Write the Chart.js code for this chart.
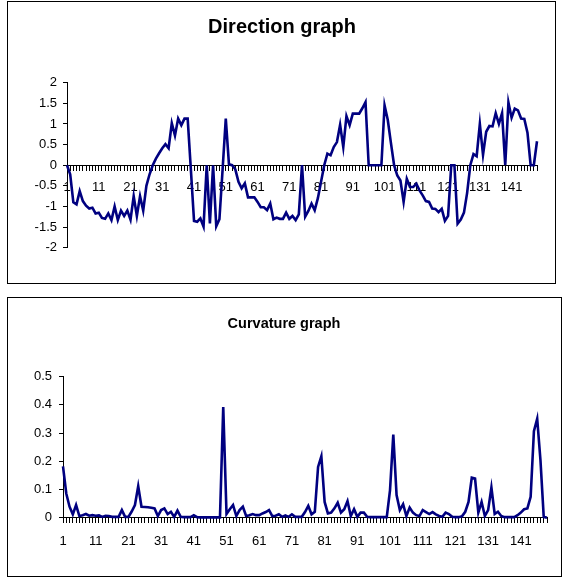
<!DOCTYPE html>
<html><head><meta charset="utf-8">
<script src="https://cdn.jsdelivr.net/npm/chart.js@4.4.0/dist/chart.umd.min.js"></script>
<style>
html,body{margin:0;padding:0;background:#fff;width:562px;height:578px;overflow:hidden;}
.box{position:absolute;border:1px solid #000;box-sizing:border-box;pointer-events:none;}
canvas{position:absolute;}
</style></head><body>
<canvas id="c1" width="548" height="282" style="left:7px;top:1px;width:548px;height:282px"></canvas>
<canvas id="c2" width="555" height="279" style="left:7px;top:297px;width:555px;height:279px"></canvas>
<div class="box" style="left:7px;top:1px;width:549px;height:283px"></div>
<div class="box" style="left:7px;top:297px;width:555px;height:280px"></div>
<script>
const categories = Array.from({length: 149}, (_, i) => String(i + 1));

const direction = [
 0, -0.22, -0.9, -0.95, -0.63, -0.87, -0.98, -1.05, -1.03, -1.17,
 -1.15, -1.28, -1.3, -1.17, -1.33, -1.0, -1.33, -1.1, -1.23, -1.1,
 -1.32, -0.75, -1.23, -0.75, -1.1, -0.5, -0.22, 0, 0.16, 0.29,
 0.41, 0.51, 0.41, 1.02, 0.72, 1.13, 0.97, 1.13, 1.13, -0.1,
 -1.35, -1.37, -1.29, -1.49, 0, -1.41, 0, -1.48, -1.31, -0.1,
 1.13, 0.02, 0, -0.1, -0.4, -0.56, -0.44, -0.78, -0.78, -0.78,
 -0.89, -1.02, -1.02, -1.09, -0.93, -1.31, -1.27, -1.3, -1.3, -1.15,
 -1.3, -1.23, -1.33, -1.19, 0, -1.25, -1.11, -0.93, -1.09, -0.8,
 -0.4, 0, 0.28, 0.24, 0.44, 0.56, 0.98, 0.44, 1.19, 0.97,
 1.25, 1.25, 1.25, 1.38, 1.53, 0, 0, 0, 0, 0,
 1.45, 1.1, 0.54, 0, -0.25, -0.37, -0.89, -0.33, -0.53, -0.53,
 -0.45, -0.61, -0.73, -0.87, -0.89, -1.05, -1.06, -1.14, -1.06, -1.35,
 -1.23, 0, 0, -1.42, -1.32, -1.15, -0.67, 0, 0.27, 0.22,
 1.0, 0.25, 0.81, 0.95, 0.94, 1.26, 1.0, 1.26, 0, 1.52,
 1.15, 1.37, 1.33, 1.13, 1.12, 0.79, 0, 0, 0.58
];

const curvature = [
 0.182, 0.086, 0.039, 0.012, 0.045, 0.006, 0.009, 0.013, 0.007, 0.009,
 0.007, 0.008, 0.003, 0.007, 0.006, 0.003, 0.003, 0.003, 0.027, 0.003,
 0.003, 0.022, 0.045, 0.112, 0.039, 0.038, 0.037, 0.035, 0.033, 0.006,
 0.027, 0.033, 0.013, 0.021, 0.003, 0.025, 0.003, 0.002, 0.002, 0.002,
 0.009, 0.002, 0.001, 0.001, 0.001, 0.001, 0.001, 0.001, 0.001, 0.392,
 0.013, 0.03, 0.045, 0.006, 0.027, 0.039, 0.006, 0.009, 0.013, 0.009,
 0.009, 0.015, 0.02, 0.027, 0.006, 0.007, 0.012, 0.003, 0.008, 0.003,
 0.012, 0.003, 0.003, 0.003, 0.02, 0.042, 0.012, 0.021, 0.18, 0.218,
 0.056, 0.015, 0.018, 0.033, 0.053, 0.018, 0.03, 0.059, 0.006, 0.03,
 0.003, 0.018, 0.018, 0.003, 0.002, 0.002, 0.002, 0.002, 0.002, 0.002,
 0.098, 0.295, 0.08, 0.027, 0.048, 0.006, 0.036, 0.018, 0.009, 0.006,
 0.027, 0.02, 0.013, 0.02, 0.012, 0.006, 0.003, 0.018, 0.013, 0.003,
 0.002, 0.002, 0.005, 0.021, 0.056, 0.142, 0.139, 0.018, 0.056, 0.006,
 0.027, 0.107, 0.013, 0.021, 0.006, 0.002, 0.002, 0.002, 0.002, 0.009,
 0.018, 0.03, 0.033, 0.074, 0.307, 0.351, 0.204, 0.003, 0
];

const FONT = '"Liberation Sans", Arial, Helvetica, sans-serif';
const LINE_COLOR = '#000080';

function build(id, o) {
  return new Chart(document.getElementById(id), {
    type: 'line',
    data: {
      labels: categories,
      datasets: [{
        data: o.values,
        borderColor: LINE_COLOR,
        borderWidth: 2.6,
        pointRadius: 0,
        tension: 0,
        fill: false,
        clip: false
      }]
    },
    options: {
      responsive: false,
      animation: false,
      devicePixelRatio: 1,
      layout: { padding: { left: o.padLeft, right: o.padRight, top: 0, bottom: o.padBottom } },
      plugins: {
        legend: { display: false },
        tooltip: { enabled: false },
        title: {
          display: true,
          text: o.title,
          color: '#000',
          font: { family: FONT, size: o.titleSize, weight: 'bold' },
          padding: { top: o.titleTop, bottom: o.titleBottom }
        }
      },
      scales: {
        x: {
          type: 'category',
          position: { y: 0 },
          offset: false,
          grid: { display: true, drawOnChartArea: false, drawTicks: true, tickLength: 5, color: '#000', lineWidth: 1 },
          border: { display: true, color: '#000', width: 1 },
          ticks: {
            autoSkip: false, maxRotation: 0, minRotation: 0,
            padding: o.xPad, color: '#000',
            font: { family: FONT, size: o.tickSize },
            callback: (v, i) => (i % 10 === 0 ? categories[i] : '')
          }
        },
        y: {
          min: o.yMin, max: o.yMax,
          ticks: {
            stepSize: o.yStep, padding: o.yPad, color: '#000',
            font: { family: FONT, size: o.tickSize },
            callback: v => String(Number(Number(v).toFixed(2)))
          },
          grid: { display: true, drawOnChartArea: false, drawTicks: true, tickLength: 4, color: '#000', lineWidth: 1 },
          border: { display: true, color: '#000', width: 1 },
          afterFit: s => { s.width = o.yWidth; }
        }
      }
    }
  });
}

build('c1', {
  values: direction, title: 'Direction graph', titleSize: 20, titleTop: 14.5, titleBottom: 43.2,
  padLeft: 20, padRight: 18, padBottom: 35.3, yWidth: 40, yMin: -2, yMax: 2, yStep: 0.5,
  tickSize: 13, xPad: 9.5, yPad: 6
});
build('c2', {
  values: curvature, title: 'Curvature graph', titleSize: 14.5, titleTop: 18, titleBottom: 44.3,
  padLeft: 14, padRight: 15, padBottom: 58.3, yWidth: 42, yMin: 0, yMax: 0.5, yStep: 0.1,
  tickSize: 13, xPad: 10.5, yPad: 7
});
</script>
</body></html>
